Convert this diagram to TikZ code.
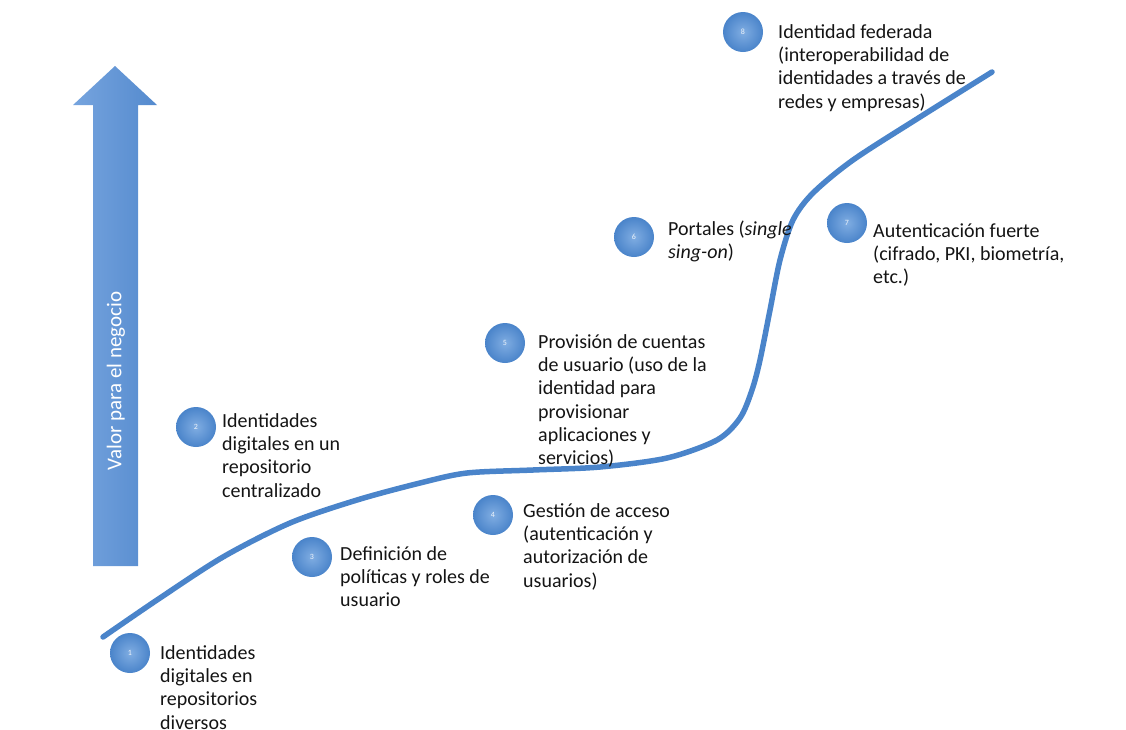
\documentclass[tikz,border=0pt]{standalone}
\usepackage{fontspec}
\setmainfont{Carlito}
\definecolor{azul}{RGB}{74,132,202}
\definecolor{azulclaro}{RGB}{128,173,226}
\definecolor{flechaizq}{RGB}{118,164,222}
\definecolor{flechader}{RGB}{84,138,206}
\definecolor{gristexto}{RGB}{20,20,20}
\newcommand{\tope}{\rule{0pt}{16pt}}

\tikzset{
  bola/.style={circle, minimum size=40pt, inner sep=0pt, shading=radial,
    inner color=azulclaro, outer color=azul, text=white!90!azul,
    font=\fontsize{8}{8}\selectfont},
  txt/.style={anchor=north west, align=left, inner sep=0pt, text=gristexto,
    font=\fontsize{20}{23.3}\selectfont},
}

\begin{document}
\begin{tikzpicture}[x=1pt,y=-1pt]
\useasboundingbox (0,0) rectangle (1126,729);
% flecha vertical
\shade[left color=flechaizq, right color=flechader]
  (93,566) -- (93,105) -- (73,105) -- (115,66) -- (157,105) -- (138,105) -- (138,566) -- cycle;
\node[rotate=90, text=white, font=\fontsize{21}{21}\selectfont] (valor) at (116,381) {Valor para el negocio};

% curva de madurez
\draw[azul, line width=5.5pt, line cap=round] plot[smooth, tension=0.5] coordinates {
  (103,637) (157,600) (223,557) (290,523) (357,500) (420,483) (467,473)
  (533,470) (600,467) (667,458) (717,440) (740,418) (752,390) (760,360)
  (770,310) (780,260) (793,220) (813,193) (853,160) (920,117) (992,72)};

% etapas
\node[bola] (c1) at (130,653) {1};
\node[txt] (t1) at (160,643) {\tope Identidades\\digitales en\\repositorios\\diversos};

\node[bola] (c2) at (196,427) {2};
\node[txt] (t2) at (222,411) {\tope Identidades\\digitales en un\\repositorio\\centralizado};

\node[bola] (c3) at (312,557) {3};
\node[txt] (t3) at (340,544) {\tope Definición de\\políticas y roles de\\usuario};

\node[bola] (c4) at (493,515) {4};
\node[txt] (t4) at (523,501) {\tope Gestión de acceso\\(autenticación y\\autorización de\\usuarios)};

\node[bola] (c5) at (505,343) {5};
\node[txt] (t5) at (538,332) {\tope Provisión de cuentas\\de usuario (uso de la\\identidad para\\provisionar\\aplicaciones y\\servicios)};

\node[bola] (c6) at (634,237) {6};
\node[txt] (t6) at (668,219) {\tope Portales (\textit{single}\\\textit{sing-on})};

\node[bola] (c7) at (847,223) {7};
\node[txt] (t7) at (873,221) {\tope Autenticación fuerte\\(cifrado, PKI, biometría,\\etc.)};

\node[bola] (c8) at (743,32) {8};
\node[txt] (t8) at (778,22) {\tope Identidad federada\\(interoperabilidad de\\identidades a través de\\redes y empresas)};
\end{tikzpicture}
\end{document}
